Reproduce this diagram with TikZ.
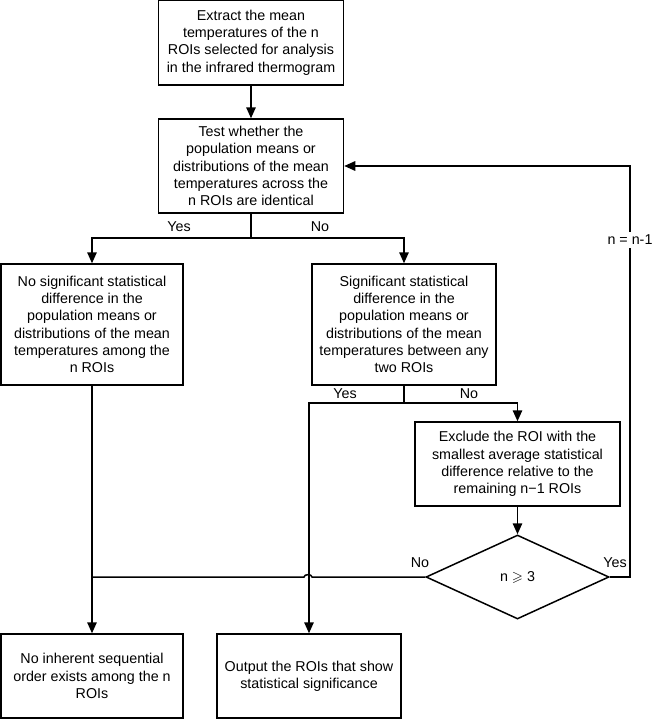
\documentclass[tikz,border=0pt]{standalone}
\usepackage{amssymb}
\usepackage{fontspec}
\setmainfont{Liberation Sans}
\usetikzlibrary{shapes.geometric,arrows.meta}

\begin{document}
\begin{tikzpicture}[x=1pt, y=-1pt, line width=1.5pt,
  stage/.style={rectangle, draw, align=center, inner sep=2pt,
    font=\fontsize{14.3}{17.3}\selectfont},
  choice/.style={diamond, draw, aspect=2.2, inner sep=0pt,
    minimum width=183pt, minimum height=84pt,
    font=\fontsize{14.3}{17.3}\selectfont},
  lbl/.style={font=\fontsize{14.3}{17.3}\selectfont, inner sep=1pt},
  arr/.style={-{Triangle[length=11pt,width=9.5pt]}}]
\useasboundingbox (0,0) rectangle (651,720);

\draw (251,42.5) node[stage, minimum width=185pt, minimum height=85pt] (extract)
      {Extract the mean\\temperatures of the n\\ROIs selected for analysis\\in the infrared thermogram};
\draw (251,166) node[stage, minimum width=185pt, minimum height=94pt] (test)
      {Test whether the\\population means or\\distributions of the mean\\temperatures across the\\n ROIs are identical};

\draw (92,324.5) node[stage, minimum width=182pt, minimum height=121pt] (nosig)
      {No significant statistical\\difference in the\\population means or\\distributions of the mean\\temperatures among the\\n ROIs};
\draw (404,324.5) node[stage, minimum width=184pt, minimum height=121pt] (sig)
      {Significant statistical\\difference in the\\population means or\\distributions of the mean\\temperatures between any\\two ROIs};

\draw (517.5,464) node[stage, minimum width=205pt, minimum height=84pt] (exclude)
      {Exclude the ROI with the\\smallest average statistical\\difference relative to the\\remaining n−1 ROIs};
\draw (517.5,577) node[choice] (cond) {n $\geqslant$ 3};

\draw (92,676) node[stage, minimum width=182pt, minimum height=84pt] (noorder)
      {No inherent sequential\\order exists among the n\\ROIs};
\draw (309,676) node[stage, minimum width=184pt, minimum height=84pt] (output)
      {Output the ROIs that show\\statistical significance};

% first test
\draw[arr] (extract) -- (test);
\coordinate (split1) at (251,238);
\draw (test.south) -- (split1);
\draw[arr] (split1) -| (nosig.north);
\draw[arr] (split1) -| (sig.north);
\draw (179,227) node[lbl] (yes1) {Yes} (320,227) node[lbl] (no1) {No};

% second test
\coordinate (split2) at (404,403);
\draw (sig.south) -- (split2);
\draw[arr] (split2) -| (output.north);
\draw[arr] (split2) -| (exclude.north);
\draw (345,394) node[lbl] (yes2) {Yes} (469,394) node[lbl] (no2) {No};

% loop
\draw[arr] (exclude) -- (cond);
\coordinate (loopB) at (630,577);
\coordinate (loopT) at (630,166);
\draw[arr] (cond.east) -- (loopB) -- (loopT) -- (test.east);
\draw (630,240) node[lbl, fill=white, inner ysep=3pt] (dec) {n = n-1};
\draw (615,563) node[lbl] (yes3) {Yes} (420,563) node[lbl] (no3) {No};

% exit
\coordinate (hopR) at (312,577);
\coordinate (hopL) at (304,577);
\coordinate (join) at (92,577);
\draw (cond.west) -- (hopR) to[out=90,in=90] (hopL) -- (join);
\draw[arr] (nosig) -- (noorder);

\end{tikzpicture}
\end{document}
